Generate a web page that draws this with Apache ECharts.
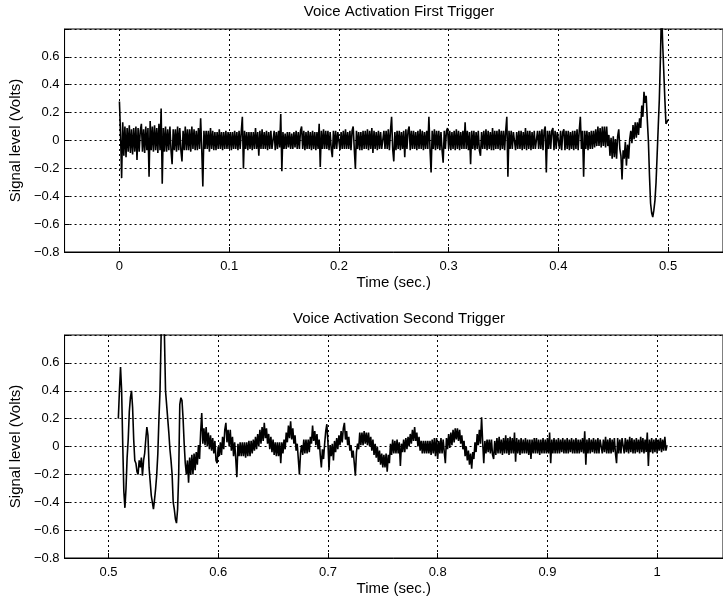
<!DOCTYPE html>
<html>
<head>
<meta charset="utf-8">
<script src="https://cdn.jsdelivr.net/npm/echarts@6/dist/echarts.min.js"></script>
<style>html,body{margin:0;padding:0;background:#fff}#c{width:723px;height:598px}</style>
</head>
<body>
<div id="c"></div>
<script>
// ---- data ----
const titleTop = 'Voice Activation First Trigger';
const titleBottom = 'Voice Activation Second Trigger';
const xName = 'Time (sec.)';
const yName = 'Signal level (Volts)';

// first trigger: samples every 1 ms starting at 0.000 s
const topStart = 0.000;
const topStep = 0.001;
const topValues = [
  0.28, 0.05, -0.27, 0.13, -0.11, 0.10, -0.12, 0.09, -0.08, 0.11, -0.09, 0.08, -0.10, 0.09, -0.08, 0.10, -0.14, 0.09, -0.08, 0.07,
  0.12, -0.08, 0.08, -0.09, 0.10, -0.07, 0.09, -0.26, 0.14, -0.07, 0.10, -0.08, 0.11, -0.07, 0.09, -0.09, 0.12, -0.07, 0.23, -0.31,
  0.09, -0.08, 0.10, -0.08, 0.08, -0.07, 0.10, -0.07, -0.17, 0.08, -0.07, 0.08, -0.08, 0.10, -0.07, 0.09, -0.07, -0.15, 0.07, -0.07,
  0.10, -0.07, 0.08, -0.07, 0.08, -0.08, 0.10, -0.06, 0.08, -0.07, 0.07, -0.07, 0.09, -0.06, 0.16, -0.06, -0.33, 0.07, -0.06, 0.07,
  -0.06, 0.07, -0.08, 0.09, -0.06, 0.07, -0.07, 0.06, -0.07, 0.06, -0.06, 0.08, -0.06, 0.06, -0.07, 0.06, -0.06, 0.07, -0.06, 0.06,
  -0.06, 0.06, -0.07, 0.06, -0.06, 0.07, -0.06, 0.06, -0.07, 0.07, -0.06, 0.06, 0.17, -0.20, 0.07, -0.06, 0.06, -0.07, 0.06, -0.06,
  0.06, -0.07, 0.06, -0.06, 0.09, -0.06, 0.06, -0.11, 0.07, -0.06, 0.08, -0.06, 0.06, -0.06, 0.07, -0.07, 0.06, -0.06, 0.07, -0.06,
  -0.06, 0.07, -0.07, 0.06, -0.06, 0.07, -0.05, 0.19, -0.22, 0.06, -0.06, 0.05, -0.06, 0.06, -0.05, 0.06, -0.06, 0.05, -0.06, 0.06,
  -0.05, 0.07, -0.06, 0.06, -0.06, 0.07, 0.10, -0.06, 0.07, -0.07, 0.06, -0.06, 0.07, -0.06, 0.06, -0.07, 0.07, -0.06, 0.06, -0.07,
  0.06, -0.06, 0.12, -0.19, 0.07, -0.06, 0.08, -0.06, 0.07, -0.06, 0.07, -0.07, 0.06, -0.06, -0.12, 0.07, -0.06, 0.07, -0.06, 0.06,
  0.06, -0.07, 0.06, -0.06, 0.07, -0.06, 0.08, -0.06, 0.06, -0.06, 0.07, -0.07, 0.07, 0.10, -0.06, -0.20, 0.07, -0.06, 0.06, -0.07,
  0.06, -0.07, 0.07, -0.06, 0.07, -0.06, 0.08, -0.07, 0.07, -0.06, 0.09, -0.09, 0.07, -0.06, 0.06, -0.07, 0.07, -0.06, 0.06, -0.06,
  -0.07, 0.07, -0.06, 0.07, -0.06, 0.08, -0.07, 0.07, 0.17, -0.06, -0.15, 0.06, -0.07, 0.07, -0.06, 0.07, -0.07, 0.06, -0.06, 0.07,
  -0.12, 0.08, -0.06, 0.07, 0.10, -0.07, 0.07, -0.06, 0.07, -0.06, 0.06, -0.07, 0.07, -0.06, 0.08, -0.06, 0.07, -0.07, 0.06, -0.06,
  0.07, -0.06, 0.17, -0.06, -0.23, 0.07, -0.06, 0.08, -0.07, 0.07, -0.06, 0.07, -0.07, 0.06, -0.07, -0.16, 0.07, -0.06, 0.07, 0.09,
  -0.06, 0.07, -0.07, 0.06, -0.06, 0.07, -0.07, 0.08, -0.06, 0.07, -0.07, 0.06, -0.06, 0.07, -0.06, 0.13, -0.06, 0.07, -0.07, 0.06,
  -0.17, 0.07, -0.06, 0.07, -0.07, 0.06, -0.06, 0.07, -0.07, -0.11, 0.06, -0.06, 0.07, -0.06, 0.08, -0.07, 0.07, -0.06, 0.06, -0.07,
  0.09, -0.07, 0.07, -0.06, 0.07, -0.06, 0.08, -0.07, 0.07, -0.06, 0.07, -0.07, 0.07, 0.17, -0.26, 0.07, -0.06, 0.07, -0.06, 0.06,
  0.07, -0.07, 0.06, -0.06, 0.07, -0.06, 0.07, -0.07, 0.06, -0.06, 0.09, -0.07, 0.07, -0.06, 0.07, -0.07, 0.06, -0.06, 0.07, -0.06,
  -0.07, 0.07, -0.06, 0.07, -0.06, 0.08, -0.07, 0.07, 0.10, -0.23, 0.07, -0.06, 0.07, -0.06, 0.07, 0.09, -0.07, 0.07, -0.06, 0.06,
  0.07, -0.06, 0.07, -0.07, 0.06, 0.08, -0.07, 0.07, -0.06, 0.07, -0.07, 0.06, -0.06, 0.07, -0.07, 0.07, -0.06, 0.08, -0.07, 0.07,
  0.17, -0.06, 0.07, -0.26, 0.07, -0.06, 0.07, -0.07, 0.06, -0.06, 0.07, -0.06, 0.07, -0.05, 0.08, -0.04, 0.10, -0.04, 0.09, -0.05,
  0.10, -0.04, 0.10, -0.05, 0.10, -0.04, 0.04, -0.11, 0.02, -0.13, 0.03, -0.12, 0.01, -0.13, 0.03, 0.08, -0.06, -0.11, -0.28, -0.07,
  -0.13, -0.01, -0.18, -0.03, -0.13, 0.01, 0.07, -0.02, 0.11, 0.01, 0.13, 0.02, 0.13, 0.04, 0.16, 0.09, 0.25, 0.17, 0.35, 0.27,
  0.32, 0.15, 0.00, -0.25, -0.45, -0.52, -0.55, -0.50, -0.43, -0.30, -0.10, 0.10, 0.30, 0.60, 0.95, 0.70, 0.50, 0.30, 0.12, 0.13,
  0.15
];

// second trigger: samples every 1 ms starting at 0.509 s
const bottomStart = 0.509;
const bottomStep = 0.001;
const bottomValues = [
  0.20, 0.40, 0.57, 0.40, 0.02, -0.32, -0.44, -0.30, -0.08, 0.05, 0.25, 0.35, 0.40, 0.28, 0.05, -0.10, -0.12, -0.18, -0.20, -0.10,
  -0.15, -0.08, -0.21, -0.10, -0.05, 0.05, 0.14, 0.08, -0.15, -0.25, -0.35, -0.40, -0.45, -0.38, -0.30, -0.20, -0.05, 0.20, 0.40, 0.80,
  0.95, 0.95, 0.80, 0.40, 0.30, 0.20, 0.10, -0.02, -0.10, -0.20, -0.40, -0.45, -0.52, -0.55, -0.45, -0.20, 0.30, 0.35, 0.33, 0.20,
  0.02, -0.12, -0.20, -0.10, -0.26, -0.08, -0.20, -0.06, -0.20, -0.05, -0.17, -0.04, -0.13, 0.01, -0.09, 0.10, 0.24, 0.02, 0.13, 0.01,
  0.14, 0.00, 0.10, -0.02, 0.08, -0.03, 0.06, -0.05, 0.04, -0.10, -0.12, 0.00, -0.07, 0.03, -0.06, 0.07, -0.02, 0.12, 0.17, 0.03,
  0.12, 0.00, 0.12, -0.03, 0.07, -0.07, 0.03, -0.09, -0.22, 0.02, -0.07, 0.03, -0.07, 0.03, -0.07, 0.03, -0.08, 0.03, -0.07, 0.04,
  -0.07, 0.04, -0.05, 0.05, -0.03, 0.07, -0.02, 0.09, 0.00, 0.12, 0.02, 0.14, 0.04, 0.17, 0.06, 0.13, 0.02, 0.09, -0.02, 0.07,
  -0.04, 0.05, -0.06, 0.03, -0.07, 0.03, -0.07, 0.03, -0.12, 0.03, -0.05, 0.05, -0.02, 0.10, 0.03, 0.15, 0.06, 0.18, 0.05, 0.13,
  0.02, 0.08, -0.03, 0.02, -0.09, -0.20, -0.05, 0.01, -0.06, 0.05, -0.05, 0.05, -0.05, 0.05, -0.04, 0.07, 0.02, 0.15, 0.04, 0.11,
  0.01, 0.09, -0.02, 0.05, -0.06, -0.15, -0.02, -0.09, 0.02, 0.11, 0.16, 0.03, -0.17, 0.01, -0.07, 0.02, -0.10, 0.04, -0.04, 0.06,
  -0.02, 0.08, 0.01, 0.11, 0.03, 0.13, 0.17, 0.05, 0.11, 0.01, 0.07, -0.03, 0.01, -0.08, -0.03, -0.12, -0.21, -0.04, 0.02, -0.02,
  0.10, 0.01, 0.10, 0.01, 0.11, 0.02, 0.10, 0.01, 0.10, 0.00, 0.07, -0.03, 0.05, -0.06, 0.02, -0.08, 0.00, -0.11, -0.03, -0.13,
  -0.05, -0.15, -0.06, -0.15, -0.05, -0.18, -0.06, -0.12, 0.02, -0.06, 0.05, -0.05, 0.04, -0.05, 0.05, -0.05, 0.03, -0.14, 0.02, -0.04,
  0.05, -0.04, 0.06, -0.02, 0.07, 0.00, 0.09, 0.02, 0.12, 0.04, 0.14, 0.04, 0.10, 0.00, 0.07, -0.03, 0.04, -0.05, 0.04, -0.05,
  0.04, -0.05, 0.04, -0.05, 0.04, -0.06, 0.05, -0.05, 0.06, -0.07, 0.06, -0.09, 0.04, -0.05, 0.06, -0.05, 0.05, -0.04, -0.12, 0.06,
  -0.02, 0.09, -0.01, 0.10, 0.01, 0.12, 0.03, 0.13, 0.05, 0.13, 0.04, 0.12, 0.02, 0.08, -0.02, 0.04, -0.07, 0.00, -0.10, -0.03,
  -0.13, -0.05, -0.16, -0.04, -0.09, 0.03, -0.04, 0.09, 0.01, 0.12, 0.02, 0.21, 0.03, -0.12, 0.04, -0.05, 0.05, -0.04, 0.05, -0.05,
  0.05, -0.06, -0.09, 0.04, -0.06, 0.06, -0.05, 0.07, -0.05, 0.05, -0.06, 0.06, -0.05, 0.08, -0.05, 0.06, -0.06, 0.07, -0.05, 0.06,
  -0.05, 0.10, -0.11, 0.06, -0.05, 0.05, -0.06, 0.06, -0.05, 0.05, -0.05, 0.06, -0.05, 0.05, -0.06, 0.05, -0.09, 0.05, -0.05, 0.06,
  -0.05, 0.06, -0.05, 0.05, -0.06, 0.05, -0.05, 0.06, -0.05, 0.05, -0.05, 0.06, -0.05, 0.10, -0.12, 0.05, -0.05, 0.06, -0.05, 0.05,
  -0.05, 0.06, -0.05, 0.05, -0.04, 0.06, -0.05, 0.05, -0.05, 0.06, -0.05, 0.05, -0.04, 0.06, -0.05, 0.05, -0.05, 0.06, -0.05, 0.05,
  -0.05, 0.05, -0.04, 0.06, -0.05, 0.11, -0.13, 0.05, -0.05, 0.06, -0.05, 0.05, -0.04, 0.06, -0.05, 0.05, -0.05, 0.06, -0.05, 0.05,
  0.06, -0.05, 0.05, -0.04, 0.07, -0.05, 0.05, -0.05, 0.06, -0.05, 0.05, -0.04, 0.06, -0.05, -0.12, 0.06, -0.05, 0.05, -0.05, 0.06,
  0.05, -0.05, 0.06, -0.04, 0.05, -0.05, 0.07, -0.04, 0.06, -0.05, 0.05, -0.05, 0.06, -0.04, 0.05, -0.05, 0.07, -0.04, 0.06, -0.05,
  0.05, -0.04, 0.10, -0.14, 0.05, -0.04, 0.06, -0.05, 0.05, -0.04, 0.06, -0.05, 0.05, -0.03, 0.06, -0.04, 0.05, -0.03, 0.07, -0.03,
  0.01
];

const topXRange = [-0.05, 0.55];
const bottomXRange = [0.46, 1.06];
const yRange = [-0.8, 0.8];
const yStep = 0.2;

// ---- build ----
const toPairs = (start, step, vals) => vals.map((v, i) => [+(start + i * step).toFixed(4), v]);
const FONT = '"Liberation Sans", Arial, Helvetica, sans-serif';
const gridLine = { show: true, lineStyle: { color: '#000', width: 1, type: [2, 3] } };

function xAxisCfg(gi, range) {
  return {
    type: 'value', gridIndex: gi, min: range[0], max: range[1], splitNumber: 6,
    name: xName, nameLocation: 'middle', nameGap: 23,
    nameTextStyle: { color: '#000', fontSize: 15, fontFamily: FONT },
    axisLine: { show: true, onZero: false, lineStyle: { color: '#000', width: 1 } },
    axisTick: { show: true, inside: true, length: 5, lineStyle: { color: '#000' } },
    axisLabel: { color: '#000', fontSize: 13, fontFamily: FONT, margin: 8,
      showMinLabel: false, showMaxLabel: false,
      formatter: v => String(+v.toFixed(2)) },
    splitLine: gridLine
  };
}
function yAxisCfg(gi) {
  return {
    type: 'value', gridIndex: gi, min: yRange[0], max: yRange[1], interval: yStep,
    name: yName, nameLocation: 'middle', nameGap: 38,
    nameTextStyle: { color: '#000', fontSize: 15, fontFamily: FONT },
    axisLine: { show: true, onZero: false, lineStyle: { color: '#000', width: 1 } },
    axisTick: { show: true, inside: true, length: 5, lineStyle: { color: '#000' } },
    axisLabel: { color: '#000', fontSize: 13, fontFamily: FONT, margin: 5,
      formatter: v => {
        const r = +v.toFixed(1);
        if (r >= 0.79) return '';
        if (r === 0) return '0';
        return r < 0 ? '\u2212' + Math.abs(r) : String(r);
      } },
    splitLine: gridLine
  };
}

const chart = echarts.init(document.getElementById('c'), null, { renderer: 'canvas' });
chart.setOption({
  animation: false,
  backgroundColor: '#fff',
  title: [
    { text: titleTop, left: 399, top: 4, textAlign: 'center', padding: 0,
      textStyle: { color: '#000', fontSize: 15, fontWeight: 'normal', fontFamily: FONT } },
    { text: titleBottom, left: 399, top: 311, textAlign: 'center', padding: 0,
      textStyle: { color: '#000', fontSize: 15, fontWeight: 'normal', fontFamily: FONT } }
  ],
  grid: [
    { left: 62, top: 29, width: 672, height: 223, show: true, borderColor: '#000', borderWidth: 1, backgroundColor: 'transparent' },
    { left: 62, top: 335, width: 672, height: 223, show: true, borderColor: '#000', borderWidth: 1, backgroundColor: 'transparent' }
  ],
  xAxis: [xAxisCfg(0, topXRange), xAxisCfg(1, bottomXRange)],
  yAxis: [yAxisCfg(0), yAxisCfg(1)],
  series: [
    { type: 'line', xAxisIndex: 0, yAxisIndex: 0, data: toPairs(topStart, topStep, topValues),
      showSymbol: false, clip: true, sampling: null, lineStyle: { color: '#000', width: 1.6 } },
    { type: 'line', xAxisIndex: 1, yAxisIndex: 1, data: toPairs(bottomStart, bottomStep, bottomValues),
      showSymbol: false, clip: true, sampling: null, lineStyle: { color: '#000', width: 1.6 } }
  ]
});
</script>
</body>
</html>
